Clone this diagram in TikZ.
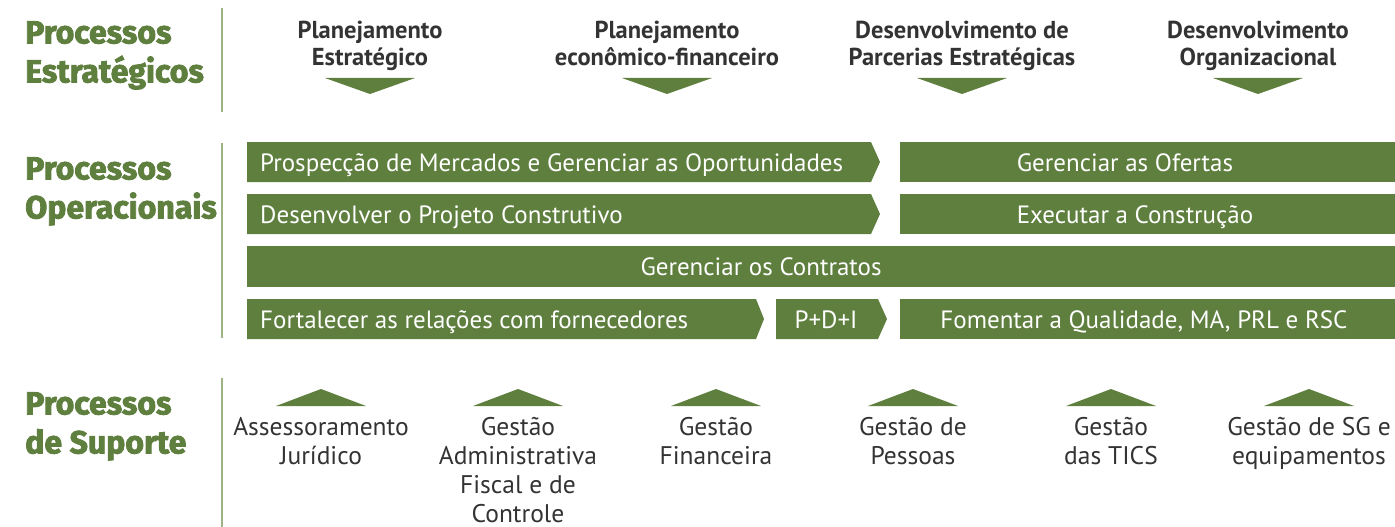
\documentclass[tikz,border=0pt]{standalone}
\usepackage{fontspec}
\setmainfont{PT Sans}
\newfontfamily\heavyfont[BoldFeatures={FakeBold=2.6}]{Fira Sans}
\definecolor{pgreen}{HTML}{5E7F3E}
\definecolor{sepgreen}{HTML}{9DB386}
\definecolor{dtext}{HTML}{333333}
\tikzset{
  boxtext/.style={text=white,font=\fontsize{25}{29}\selectfont,inner sep=0pt},
  headtext/.style={text=dtext,font=\fontsize{24.5}{26.5}\selectfont\bfseries,align=center,anchor=north,inner sep=0pt},
  suptext/.style={text=dtext,font=\fontsize{25.5}{29}\selectfont,align=center,anchor=north,inner sep=0pt},
  sidetext/.style={text=pgreen,font=\heavyfont\bfseries\fontsize{32}{39}\selectfont,align=left,anchor=north west,inner sep=0pt},
  sepline/.style={draw=sepgreen,line width=1.5pt},
}
\begin{document}
\begin{tikzpicture}[x=1pt,y=-1pt]
\useasboundingbox (0,0) rectangle (1395,527);
% separators
\draw[sepline] (222,8) -- (222,112);
\draw[sepline] (222,143) -- (222,338);
\draw[sepline] (222,378) -- (222,527);
% side labels
\node[sidetext] (ls) at (25,21) {Processos\\Estratégicos};
\node[sidetext] (lo) at (25,157) {Processos\\Operacionais};
\node[sidetext] (lsu) at (25,392) {Processos\\de Suporte};
% strategic headings
\node[headtext] (h1) at (370,21) {Planejamento\\Estratégico};
\node[headtext] (h2) at (667,21) {Planejamento\\econômico-financeiro};
\node[headtext] (h3) at (962,21) {Desenvolvimento de\\Parcerias Estratégicas};
\node[headtext] (h4) at (1258,21) {Desenvolvimento\\Organizacional};
\foreach \c in {370,667,962,1258}
  \fill[pgreen] (\c-45,78) -- (\c+45,78) -- (\c,94) -- cycle;
% operational boxes
\fill[pgreen] (247,142) -- (871,142) -- (880,162) -- (871,182) -- (247,182) -- cycle;
\fill[pgreen] (900,142) rectangle (1395,182);
\fill[pgreen] (247,194) -- (871,194) -- (880,214) -- (871,234) -- (247,234) -- cycle;
\fill[pgreen] (900,194) rectangle (1395,234);
\fill[pgreen] (247,246) rectangle (1395,287);
\fill[pgreen] (247,299) -- (756,299) -- (764,319) -- (756,339) -- (247,339) -- cycle;
\fill[pgreen] (776,299) -- (878,299) -- (887,319) -- (878,339) -- (776,339) -- cycle;
\fill[pgreen] (900,299) rectangle (1395,339);
\node[boxtext,anchor=base west] (b1) at (260,171) {Prospecção de Mercados e Gerenciar as Oportunidades};
\node[boxtext,anchor=base] (b2) at (1125,171) {Gerenciar as Ofertas};
\node[boxtext,anchor=base west] (b3) at (260,223) {Desenvolver o Projeto Construtivo};
\node[boxtext,anchor=base] (b4) at (1135,223) {Executar a Construção};
\node[boxtext,anchor=base] (b5) at (761,275) {Gerenciar os Contratos};
\node[boxtext,anchor=base west] (b6) at (260,328) {Fortalecer as relações com fornecedores};
\node[boxtext,anchor=base] (b7) at (826,328) {P+D+I};
\node[boxtext,anchor=base] (b8) at (1144,328) {Fomentar a Qualidade, MA, PRL e RSC};
% support
\foreach \c in {321,518,716,913,1111,1309}
  \fill[pgreen] (\c-45,406) -- (\c+45,406) -- (\c,389) -- cycle;
\node[suptext] (s1) at (321,417) {Assessoramento\\Jurídico};
\node[suptext] (s2) at (518,417) {Gestão\\Administrativa\\Fiscal e de\\Controle};
\node[suptext] (s3) at (716,417) {Gestão\\Financeira};
\node[suptext] (s4) at (913,417) {Gestão de\\Pessoas};
\node[suptext] (s5) at (1111,417) {Gestão\\das TICS};
\node[suptext] (s6) at (1309,417) {Gestão de SG e\\equipamentos};
\end{tikzpicture}
\end{document}
